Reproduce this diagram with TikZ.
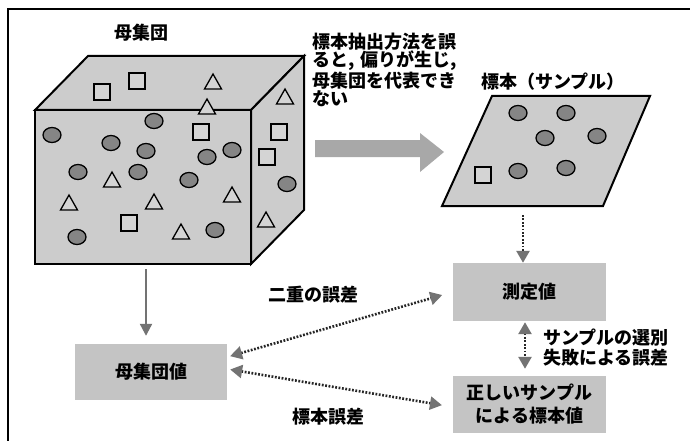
\documentclass[tikz,border=0pt]{standalone}
\usepackage{fontspec}
\setmainfont{Noto Sans CJK JP}[BoldFont={Noto Sans CJK JP Black}]
\usetikzlibrary{arrows.meta}
\definecolor{facegray}{gray}{0.8}
\definecolor{boxgray}{gray}{0.77}
\definecolor{circgray}{gray}{0.52}
\definecolor{lightgray}{gray}{0.83}
\definecolor{bigarrow}{gray}{0.66}
\definecolor{tipgray}{gray}{0.45}
\definecolor{dotgray}{gray}{0.15}
\newcommand\mycirc[2]{\draw[circshape] (#1,#2) ellipse [x radius=9pt, y radius=7.5pt];}
\newcommand\mysq[2]{\draw[lightshape] (#1-8,#2-8) rectangle ++(16,16);}
\newcommand\mytri[2]{\draw[lightshape] (#1-8.5,#2+7) -- ++(17,0) -- (#1,#2-8) -- cycle;}
\begin{document}
\begin{tikzpicture}[x=1pt,y=-1pt,
  txt/.style={font=\bfseries\fontsize{18}{19}\selectfont, inner sep=0pt},
  valbox/.style={txt, fill=boxgray, minimum width=153pt, align=center},
  circshape/.style={draw=black, line width=1.3pt, fill=circgray},
  lightshape/.style={draw=black, line width=1.3pt, fill=lightgray},
  facestyle/.style={draw=black, line width=2pt, fill=facegray, line join=miter},
  dotarrow/.style={draw=dotgray, line width=2.6pt, dash pattern=on 1.8pt off 1.6pt,
     {Triangle[width=13pt,length=12pt,color=tipgray]}-{Triangle[width=13pt,length=12pt,color=tipgray]}},
  dotarrowone/.style={draw=dotgray, line width=2.6pt, dash pattern=on 1.8pt off 1.6pt,
     -{Triangle[width=13pt,length=12pt,color=tipgray]}},
  solidarrow/.style={draw=tipgray, line width=2.2pt, -{Triangle[width=12pt,length=12pt,color=tipgray]}}
]
\useasboundingbox (0,0) rectangle (690,441);
% frame
\draw[line width=1.5pt] (8,441) -- (8,9) -- (690,9);

% cube
\draw[facestyle] (35,110) -- (88,56) -- (304,56) -- (251,110) -- cycle;
\draw[facestyle] (251,110) -- (304,56) -- (304,210) -- (251,264) -- cycle;
\draw[facestyle] (35,110) rectangle (251,264);
% shapes on top face
\mysq{102}{92}
\mysq{137}{81}
\mytri{213}{82}
\mytri{207}{107}
% front face
\mycirc{154}{121}
\mycirc{52}{135}
\mysq{201}{132}
\mycirc{111}{143}
\mycirc{146}{151}
\mycirc{232}{150}
\mycirc{207}{157}
\mycirc{78}{172}
\mytri{112}{180}
\mycirc{138}{172}
\mycirc{189}{180}
\mytri{232}{195}
\mytri{69}{203}
\mytri{154}{202}
\mysq{129}{223}
\mytri{181}{232}
\mycirc{215}{230}
\mycirc{77}{237}
% right face
\mytri{285}{97}
\mysq{279}{132}
\mysq{267}{157}
\mycirc{287}{184}
\mytri{266}{220}

\node[txt] (title) at (141,33) {母集団};

% explanation text
\node[txt, anchor=west, align=left, font=\bfseries\fontsize{18}{18.4}\selectfont] (explain) at (312,70)
  {標本抽出方法を誤\\ると,\hspace{0.35em}偏りが生じ,\\母集団を代表でき\\ない};

% big arrow
\draw[fill=bigarrow, draw=none] (315,140) -- (420,140) -- (420,133) -- (444,152) -- (420,172) -- (420,157) -- (315,157) -- cycle;

% sample parallelogram
\node[txt] (sampletitle) at (553,82) {標本（サンプル）};
\draw[facestyle] (442,206) -- (603,206) -- (650,96) -- (492,96) -- cycle;
\mycirc{518}{113}
\mycirc{566}{113}
\mycirc{545}{138}
\mycirc{597}{136}
\mycirc{518}{171}
\mycirc{566}{168}
\mysq{483}{175}
\coordinate (para) at (523,215);
\coordinate (cubebot) at (146,269);

% value boxes
\node[valbox, minimum height=58pt] (meas) at (529.5,292) {測定値};
\node[valbox, minimum height=57pt, font=\bfseries\fontsize{18}{23}\selectfont] (correct) at (529.5,404.5) {正しいサンプル\\による標本値};
\node[valbox, minimum width=152pt, minimum height=56pt] (popval) at (151,372) {母集団値};

% connectors
\draw[dotarrowone] (para) -- (para |- meas.north);
\draw[solidarrow, shorten >=8pt] (cubebot) -- (cubebot |- popval.north);
\draw[dotarrow, shorten <=3pt, shorten >=11pt] ([yshift=15pt]popval.east) -- (meas.west);
\draw[dotarrow, shorten <=3pt, shorten >=11pt] ([yshift=3pt]popval.east) -- ([yshift=-2.5pt]correct.west);
\draw[dotarrow, shorten <=1pt, shorten >=7pt] ([xshift=-4.5pt]meas.south) -- ([xshift=-4.5pt]correct.north);

% labels
\node[txt] (lbldouble) at (313,295) {二重の誤差};
\node[txt] (lblsample) at (328,417) {標本誤差};
\node[txt, anchor=west, align=left, font=\bfseries\fontsize{18}{20}\selectfont] (lblselect) at (543,348) {サンプルの選別\\失敗による誤差};
\end{tikzpicture}
\end{document}
